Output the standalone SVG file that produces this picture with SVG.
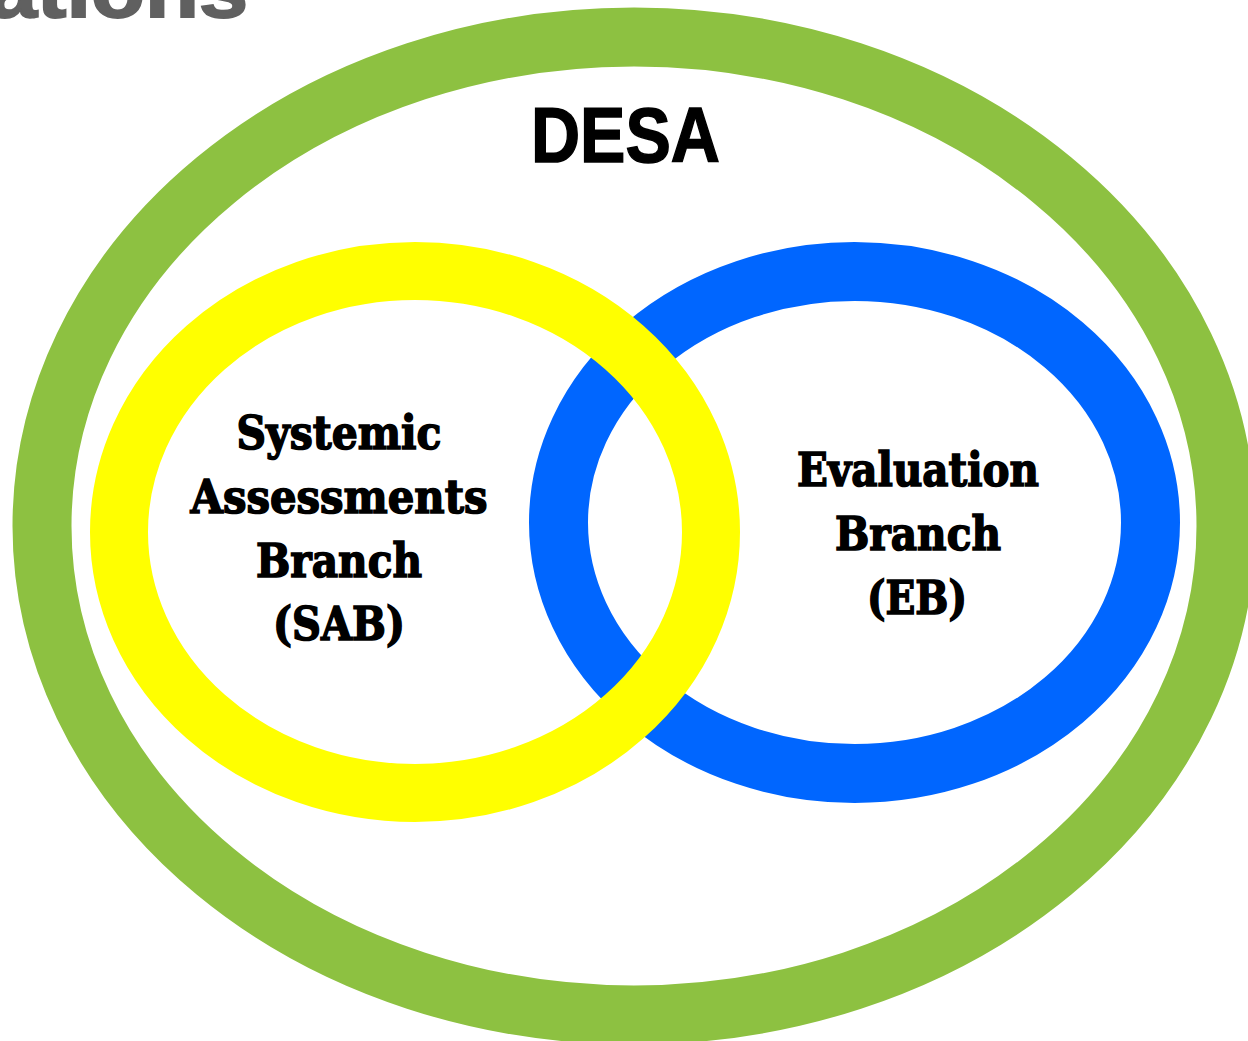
<svg xmlns="http://www.w3.org/2000/svg" width="1248" height="1041" viewBox="0 0 1248 1041">
<style>
.ring{fill:none;}
.lbl{font-family:"DejaVu Serif","Liberation Serif",serif;font-weight:bold;font-size:46px;fill:#000;stroke:#000;stroke-width:1.6px;text-anchor:middle;}
.title{font-family:"Liberation Sans Narrow","Liberation Sans",Arial,sans-serif;font-weight:bold;}
</style>
<rect width="1248" height="1041" fill="#ffffff"/>
<text class="title" x="-12" y="17" font-size="80" fill="#606060" stroke="#606060" stroke-width="2" textLength="260" lengthAdjust="spacingAndGlyphs">ations</text>
<g id="desa">
<ellipse class="ring" cx="634" cy="526" rx="592" ry="489" stroke="#8DC141" stroke-width="59"/>
<text class="title" x="531" y="162" font-size="78" fill="#000" stroke="#000" stroke-width="1.5" textLength="189" lengthAdjust="spacingAndGlyphs">DESA</text>
</g>
<g id="eb">
<ellipse class="ring" cx="854.5" cy="522.5" rx="296" ry="251" stroke="#0066FF" stroke-width="59"/>
<text class="lbl" x="918" y="486" textLength="242" lengthAdjust="spacingAndGlyphs">Evaluation</text>
<text class="lbl" x="918" y="550" textLength="166" lengthAdjust="spacingAndGlyphs">Branch</text>
<text class="lbl" x="917" y="614" textLength="100" lengthAdjust="spacingAndGlyphs">(EB)</text>
</g>
<g id="sab">
<ellipse class="ring" cx="415" cy="532" rx="296" ry="261" stroke="#FFFF00" stroke-width="58"/>
<text class="lbl" x="339" y="449" textLength="205" lengthAdjust="spacingAndGlyphs">Systemic</text>
<text class="lbl" x="339" y="513" textLength="297" lengthAdjust="spacingAndGlyphs">Assessments</text>
<text class="lbl" x="339" y="577" textLength="166" lengthAdjust="spacingAndGlyphs">Branch</text>
<text class="lbl" x="339" y="640" textLength="132" lengthAdjust="spacingAndGlyphs">(SAB)</text>
</g>
<g id="connectors"></g>
</svg>
